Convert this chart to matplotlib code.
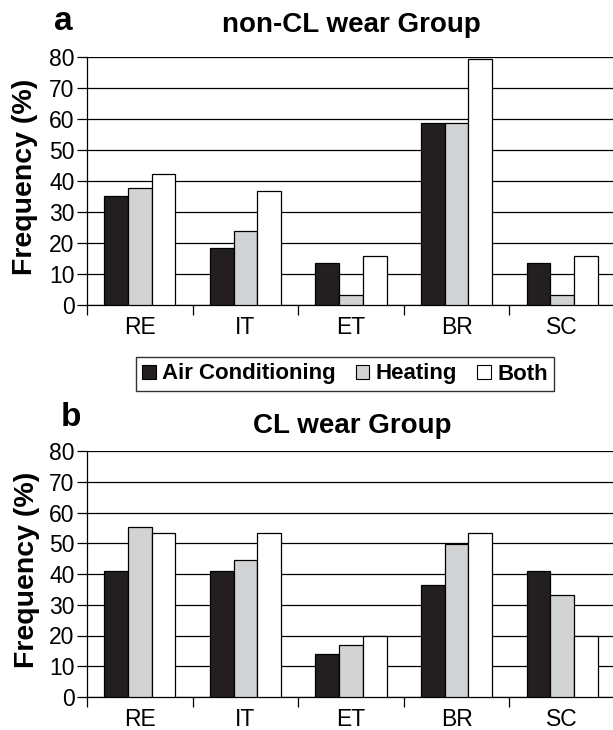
import matplotlib
matplotlib.use("Agg")
import matplotlib.pyplot as plt
import numpy as np
from matplotlib.patches import Patch

plt.rcParams["font.family"] = ["Liberation Sans", "DejaVu Sans"]

categories = ["RE", "IT", "ET", "BR", "SC"]
series = ["Air Conditioning", "Heating", "Both"]

non_cl_air = [35.1, 18.5, 13.6, 58.6, 13.6]
non_cl_heat = [37.9, 24.0, 3.3, 58.6, 3.3]
non_cl_both = [42.3, 36.9, 15.9, 79.2, 15.9]

cl_air = [41.1, 41.1, 13.9, 36.4, 41.1]
cl_heat = [55.4, 44.5, 17.0, 49.9, 33.2]
cl_both = [53.2, 53.2, 20.0, 53.2, 20.0]

colors = ["#231f20", "#d1d3d4", "#ffffff"]
W, H = 613, 730


def panel(ax, values):
    x = np.arange(len(categories))
    width = 0.225
    for k, (vals, c) in enumerate(zip(values, colors)):
        ax.bar(x + 0.5 + (k - 1) * width, vals, width, color=c,
               edgecolor="black", linewidth=0.9, zorder=3)
    ax.set_xlim(0, len(categories))
    ax.set_ylim(0, 80)
    ax.set_yticks(np.arange(0, 81, 10))
    ax.yaxis.grid(True, color="black", linewidth=0.9, zorder=0)
    ax.set_xticks(np.arange(len(categories) + 1))
    ax.set_xticklabels([])
    ax.set_xticks(x + 0.5, minor=True)
    ax.set_xticklabels(categories, minor=True)
    ax.tick_params(axis="x", which="minor", length=0, pad=8, labelsize=16.5)
    ax.tick_params(axis="x", which="major", length=7, width=0.9, direction="out")
    ax.tick_params(axis="y", length=7, width=0.9, labelsize=16.5, pad=2)
    for s in ("top", "right"):
        ax.spines[s].set_visible(False)
    for s in ("left", "bottom"):
        ax.spines[s].set_linewidth(0.9)


fig = plt.figure(figsize=(W / 100, H / 100), dpi=100)

ax1 = fig.add_axes([87 / W, 1 - 305 / H, 528 / W, 248 / H])
panel(ax1, [non_cl_air, non_cl_heat, non_cl_both])
ax2 = fig.add_axes([87 / W, 1 - 697 / H, 528 / W, 246 / H])
panel(ax2, [cl_air, cl_heat, cl_both])

fig.text(63 / W, 1 - 21 / H, "a", fontsize=24, fontweight="bold", ha="center", va="center")
fig.text(351 / W, 1 - 25 / H, "non-CL wear Group", fontsize=20, fontweight="bold",
         ha="center", va="center")
fig.text(25 / W, 1 - 177 / H, "Frequency (%)", fontsize=20.5, fontweight="bold",
         rotation=90, ha="center", va="center")

fig.text(71 / W, 1 - 417 / H, "b", fontsize=24, fontweight="bold", ha="center", va="center")
fig.text(352 / W, 1 - 426 / H, "CL wear Group", fontsize=20, fontweight="bold",
         ha="center", va="center")
fig.text(27 / W, 1 - 570 / H, "Frequency (%)", fontsize=20.5, fontweight="bold",
         rotation=90, ha="center", va="center")

handles = [Patch(facecolor=c, edgecolor="black", linewidth=0.8) for c in colors]
leg = fig.legend(handles, series, loc="center", bbox_to_anchor=(345 / W, 1 - 374 / H),
                 ncol=3, frameon=True, fancybox=False, edgecolor="black",
                 prop={"weight": "bold", "size": 16}, handlelength=0.6, handleheight=0.6,
                 handletextpad=0.3, columnspacing=0.9, borderpad=0.3)
leg.get_frame().set_linewidth(1.0)

fig.savefig("out.png", dpi=100)
